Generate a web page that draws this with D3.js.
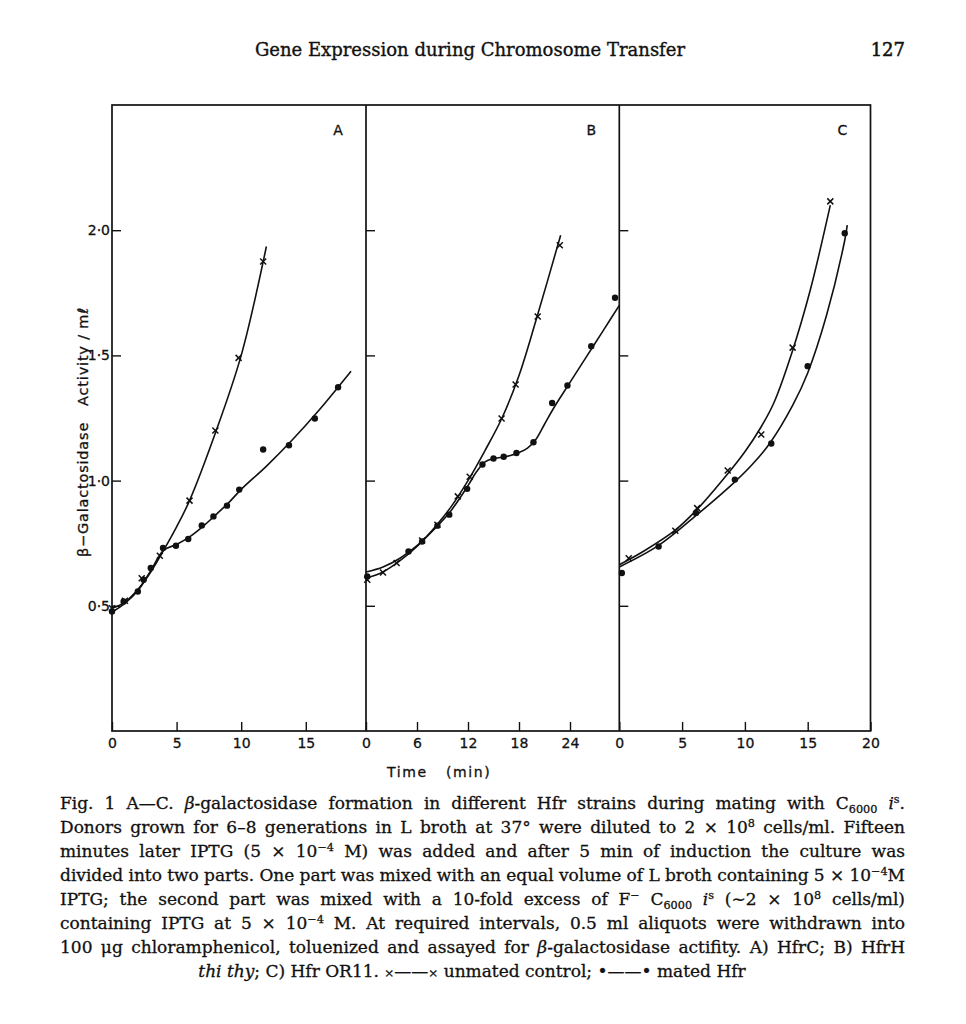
<!DOCTYPE html>
<html>
<head>
<meta charset="utf-8">
<script src="https://cdn.jsdelivr.net/npm/d3@7"></script>
<style>
body{margin:0;background:#fff}
</style>
</head>
<body>
<div id="container"></div>
<script>
// ---- data: [time (min), beta-galactosidase activity / ml]
const panelNames = ["A", "B", "C"];
const yTicks = [0.5, 1.0, 1.5, 2.0];
const yTickLabels = ["0·5", "1·0", "1·5", "2·0"];
const xTicksA = [0, 5, 10, 15];
const xTicksB = [0, 6, 12, 18, 24];
const xTicksC = [0, 5, 10, 15, 20];

// A) HfrC
const unmatedA = [[0,0.49],[1,0.52],[2.3,0.61],[3.7,0.70],[6,0.92],[8,1.20],[9.8,1.49],[11.7,1.875]];
const matedA = [[0,0.477],[0.9,0.517],[2,0.557],[2.45,0.604],[3,0.651],[3.95,0.731],[4.95,0.74],[5.9,0.767],
    [6.95,0.821],[7.85,0.857],[8.9,0.90],[9.85,0.964],[11.7,1.124],[13.7,1.141],[15.7,1.248],[17.5,1.373]];
const unmatedFitA = [[0,0.49],[1,0.515],[2,0.565],[3,0.635],[4,0.722],[5,0.815],[6,0.92],[8,1.19],[10,1.50],[11.95,1.935]];
const matedFitA = [[0,0.475],[1,0.51],[2,0.56],[3,0.64],[4,0.722],[5,0.745],[6,0.775],[7,0.815],[8,0.862],
    [9,0.91],[10,0.965],[12,1.06],[14,1.165],[16,1.28],[18.5,1.437]];

// B) HfrH thi thy
const unmatedB = [[0.15,0.604],[2,0.633],[3.6,0.671],[6.6,0.761],[8.4,0.824],[10.8,0.937],[12.2,1.015],
    [15.95,1.248],[17.6,1.384],[20.2,1.655],[22.8,1.94]];
const matedB = [[0.15,0.617],[5,0.717],[6.6,0.757],[8.4,0.82],[9.8,0.864],[11.9,0.967],[13.7,1.064],[15,1.088],
    [16.2,1.095],[17.7,1.11],[19.7,1.153],[21.9,1.31],[23.7,1.38],[26.5,1.537],[29.3,1.73]];
const unmatedFitB = [[0,0.61],[2,0.635],[4,0.68],[6,0.737],[8,0.81],[10,0.895],[12,1.0],[14,1.12],[16,1.25],
    [18,1.42],[20,1.64],[22.9,1.98]];
const matedFitB = [[0,0.635],[2,0.655],[4,0.69],[6,0.74],[8,0.805],[10,0.88],[12,0.98],[13,1.035],[14,1.075],
    [15,1.088],[16,1.093],[17,1.10],[18,1.112],[19,1.13],[20,1.165],[21,1.225],[22,1.285],[24,1.392],
    [26,1.498],[28,1.604],[29.8,1.70]];

// C) Hfr OR11
const unmatedC = [[0.75,0.69],[4.46,0.80],[6.2,0.89],[8.63,1.04],[11.3,1.184],[13.8,1.531],[16.8,2.115]];
const matedC = [[0.2,0.631],[3.13,0.737],[6.1,0.871],[9.2,1.004],[12.1,1.148],[15,1.457],[17.95,1.988]];
const unmatedFitC = [[0,0.664],[2,0.72],[4.4,0.80],[6.2,0.885],[8.6,1.025],[10,1.115],[11.3,1.215],[12.3,1.31],
    [13.8,1.52],[15.2,1.76],[16.8,2.10]];
const matedFitC = [[0,0.655],[3.1,0.74],[6.1,0.86],[9.2,0.995],[10.6,1.065],[12,1.15],[13.8,1.30],[15,1.43],
    [16.5,1.66],[17.95,1.96],[18.15,2.02]];

// ---- layout
const W = 966, H = 1024;
const plotTop = 105, plotBottom = 731;
const panels = [
    {name: panelNames[0], x0: 112, x1: 366, tmax: 19.66, ticks: xTicksA, unmated: unmatedA, mated: matedA, fitU: unmatedFitA, fitM: matedFitA},
    {name: panelNames[1], x0: 366, x1: 619.3, tmax: 29.8, ticks: xTicksB, unmated: unmatedB, mated: matedB, fitU: unmatedFitB, fitM: matedFitB},
    {name: panelNames[2], x0: 619.3, x1: 870.5, tmax: 20, ticks: xTicksC, unmated: unmatedC, mated: matedC, fitU: unmatedFitC, fitM: matedFitC}
];
const ink = "#111";
const sans = "'DejaVu Sans', Verdana, sans-serif";
const serif = "'DejaVu Serif', serif";

let viz = d3.select("#container").append("svg")
    .attr("width", W)
    .attr("height", H)
    .style("background-color", "white")

let y = d3.scaleLinear().domain([0, 2.5]).range([plotBottom, plotTop]);

// header
viz.append("text")
    .attr("x", 470).attr("y", 56)
    .attr("text-anchor", "middle")
    .attr("font-family", serif).attr("font-size", 18)
    .attr("fill", ink).attr("stroke", ink).attr("stroke-width", 0.35)
    .text("Gene Expression during Chromosome Transfer")
viz.append("text")
    .attr("x", 905).attr("y", 56)
    .attr("text-anchor", "end")
    .attr("font-family", serif).attr("font-size", 18)
    .attr("fill", ink).attr("stroke", ink).attr("stroke-width", 0.5)
    .text("127")

panels.forEach(function(p, i){
    let x = d3.scaleLinear().domain([0, p.tmax]).range([p.x0, p.x1]);
    let g = viz.append("g").attr("class", "panel" + p.name);

    // x axis ticks point up into the plot
    let xAxis = d3.axisBottom(x).tickValues(p.ticks).tickSizeInner(-9).tickSizeOuter(0).tickPadding(7);
    let gx = g.append("g").attr("transform", "translate(0," + plotBottom + ")").call(xAxis);
    gx.select(".domain").remove();
    gx.selectAll("line").attr("stroke", ink).attr("stroke-width", 1.4);
    gx.selectAll("text").attr("font-family", sans).attr("font-size", 14)
        .attr("fill", ink).attr("stroke", ink).attr("stroke-width", 0.3);

    // y axis: labels only on the first panel
    let yAxis = d3.axisLeft(y).tickValues(yTicks).tickSizeInner(-9).tickSizeOuter(0).tickPadding(2)
        .tickFormat(i === 0 ? (d, k) => yTickLabels[k] : () => "");
    let gy = g.append("g").attr("transform", "translate(" + p.x0 + ",0)").call(yAxis);
    gy.select(".domain").remove();
    gy.selectAll("line").attr("stroke", ink).attr("stroke-width", 1.4);
    gy.selectAll("text").attr("font-family", sans).attr("font-size", 14)
        .attr("fill", ink).attr("stroke", ink).attr("stroke-width", 0.3);

    // panel letter
    g.append("text")
        .attr("x", p.x1 - 28).attr("y", 135)
        .attr("text-anchor", "middle")
        .attr("font-family", sans).attr("font-size", 14)
        .attr("fill", ink).attr("stroke", ink).attr("stroke-width", 0.3)
        .text(p.name)

    let line = d3.line()
        .x(d => x(d[0]))
        .y(d => y(d[1]))
        .curve(d3.curveCatmullRom.alpha(0.5));

    g.append("path").datum(p.fitU)
        .attr("d", line).attr("fill", "none")
        .attr("stroke", ink).attr("stroke-width", 1.6)
    g.append("path").datum(p.fitM)
        .attr("d", line).attr("fill", "none")
        .attr("stroke", ink).attr("stroke-width", 1.6)

    g.selectAll("crosses").data(p.unmated).enter()
        .append("path")
        .attr("transform", d => "translate(" + x(d[0]) + "," + y(d[1]) + ")")
        .attr("d", "M-3,-3L3,3M-3,3L3,-3")
        .attr("stroke", ink).attr("stroke-width", 1.5)

    g.selectAll("dots").data(p.mated).enter()
        .append("circle")
        .attr("cx", d => x(d[0]))
        .attr("cy", d => y(d[1]))
        .attr("r", 3.2)
        .attr("fill", ink)
});

// frame
viz.append("rect")
    .attr("x", 112).attr("y", plotTop)
    .attr("width", 870.5 - 112).attr("height", plotBottom - plotTop)
    .attr("fill", "none").attr("stroke", ink).attr("stroke-width", 1.7)
viz.selectAll("dividers").data([366, 619.3]).enter()
    .append("line")
    .attr("x1", d => d).attr("x2", d => d)
    .attr("y1", plotTop).attr("y2", plotBottom)
    .attr("stroke", ink).attr("stroke-width", 1.7)

// axis titles
viz.append("text")
    .attr("x", 387).attr("y", 777)
    .attr("font-family", sans).attr("font-size", 14).attr("letter-spacing", 1.6)
    .attr("fill", ink).attr("stroke", ink).attr("stroke-width", 0.3)
    .text("Time")
viz.append("text")
    .attr("x", 446).attr("y", 777)
    .attr("font-family", sans).attr("font-size", 14).attr("letter-spacing", 1.6)
    .attr("fill", ink).attr("stroke", ink).attr("stroke-width", 0.3)
    .text("(min)")
let ylab = viz.append("text")
    .attr("transform", "translate(88,432) rotate(-90)")
    .attr("text-anchor", "middle")
    .attr("font-family", sans).attr("font-size", 14.5).attr("letter-spacing", 0.8)
    .attr("fill", ink).attr("stroke", ink).attr("stroke-width", 0.3)
ylab.append("tspan").text("β−Galactosidase")
ylab.append("tspan").attr("dx", 16).text("Activity / mℓ")

// caption
const caption = [
    [["Fig. 1 A—C. "],["β","it"],["-galactosidase formation in different Hfr strains during mating with C"],["6000","sub"],[" "],["i","it"],["s","sup"],["."]],
    [["Donors grown for 6–8 generations in L broth at 37° were diluted to 2 × 10"],["8","sup"],[" cells/ml. Fifteen"]],
    [["minutes later IPTG (5 × 10"],["−4","sup"],[" M) was added and after 5 min of induction the culture was"]],
    [["divided into two parts. One part was mixed with an equal volume of L broth containing 5 × 10"],["−4","sup"],["M"]],
    [["IPTG; the second part was mixed with a 10-fold excess of F"],["−","sup"],[" C"],["6000","sub"],[" "],["i","it"],["s","sup"],[" (∼2 × 10"],["8","sup"],[" cells/ml)"]],
    [["containing IPTG at 5 × 10"],["−4","sup"],[" M. At required intervals, 0.5 ml aliquots were withdrawn into"]],
    [["100 μg chloramphenicol, toluenized and assayed for "],["β","it"],["-galactosidase actifity. A) HfrC; B) HfrH"]],
    [["thi thy","it"],["; C) Hfr OR11. "],["×","small"],["——"],["×","small"],[" unmated control; "],["•"],["——"],["•"],[" mated Hfr"]]
];
const capLeft = 60, capRight = 905, capTop = 809, capStep = 24, capSize = 17;

caption.forEach(function(segs, li){
    let last = li === caption.length - 1;
    let t = viz.append("text")
        .attr("x", last ? 472 : capLeft)
        .attr("y", capTop + li * capStep)
        .attr("text-anchor", last ? "middle" : "start")
        .attr("font-family", serif).attr("font-size", capSize)
        .attr("fill", ink).attr("stroke", ink).attr("stroke-width", 0.3)
    let shift = 0;
    segs.forEach(function(s){
        let ts = t.append("tspan").text(s[0]);
        let want = 0;
        if (s[1] === "sup") { want = -6; ts.attr("font-size", capSize * 0.66); }
        if (s[1] === "sub") { want = 4; ts.attr("font-size", capSize * 0.66); }
        if (s[1] === "it") ts.attr("font-style", "italic");
        if (s[1] === "small") ts.attr("font-size", capSize * 0.7);
        if (want !== shift) { ts.attr("dy", want - shift); shift = want; }
    });
    let node = t.node();
    let natural = node.getComputedTextLength();
    if (!last) {
        let spaces = segs.map(s => s[0]).join("").split(" ").length - 1;
        let ws = (capRight - capLeft - natural) / spaces;
        if (ws < -2.5) {
            // too long even with tight spaces: squeeze glyphs a little
            t.attr("word-spacing", -2.5)
             .attr("textLength", capRight - capLeft)
             .attr("lengthAdjust", "spacingAndGlyphs");
        } else {
            t.attr("word-spacing", ws);
        }
    }
});
</script>
</body>
</html>
